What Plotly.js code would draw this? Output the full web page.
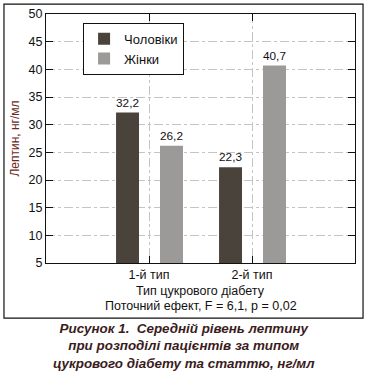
<!DOCTYPE html>
<html>
<head>
<meta charset="utf-8">
<script src="https://cdn.plot.ly/plotly-3.0.1.min.js"></script>
<style>html,body{margin:0;padding:0;background:#fff;}#chart{width:367px;height:375px;}</style>
</head>
<body>
<div id="chart"></div>
<script>
const categories = ["1-й тип", "2-й тип"];
const seriesNames = ["Чоловіки", "Жінки"];
const menValues = [32.2, 22.3];
const womenValues = [26.2, 40.7];
const yTicks = [5, 10, 15, 20, 25, 30, 35, 40, 45, 50];

const font = "Liberation Sans, Arial, sans-serif";

const traces = [
  {type: "bar", name: seriesNames[0], x: categories, y: menValues, width: 0.223, offset: -0.32,
   marker: {color: "#4a433b"}, texttemplate: "%{y:.1f}", textposition: "outside",
   textfont: {size: 12.5, color: "#111", family: font}, cliponaxis: false},
  {type: "bar", name: seriesNames[1], x: categories, y: womenValues, width: 0.223, offset: 0.107,
   marker: {color: "#9b9a98"}, texttemplate: "%{y:.1f}", textposition: "outside",
   textfont: {size: 12.5, color: "#111", family: font}, cliponaxis: false}
];

const layout = {
  width: 367, height: 375,
  margin: {l: 46, r: 12, t: 14, b: 112, pad: 0},
  paper_bgcolor: "#fff", plot_bgcolor: "#fff",
  separators: ", ",
  font: {family: font, size: 12.5, color: "#111"},
  barmode: "overlay",
  showlegend: true,
  legend: {x: 0.12, y: 0.965, xanchor: "left", yanchor: "top",
    bordercolor: "#111", borderwidth: 1, bgcolor: "#fff",
    font: {size: 13, family: font, color: "#111"}, tracegroupgap: 0, itemwidth: 30},
  xaxis: {type: "category", range: [-1, 2], showline: true, linecolor: "#111", linewidth: 1,
    mirror: "ticks", ticks: "inside", ticklen: 7, tickcolor: "#111",
    showgrid: true, gridcolor: "#c4c4c4", griddash: "dashdot", gridwidth: 1,
    tickfont: {size: 12.5, family: font, color: "#111"}, fixedrange: true},
  yaxis: {range: [5, 50], tickvals: yTicks, showline: true, linecolor: "#111", linewidth: 1,
    mirror: "ticks", ticks: "inside", ticklen: 7, tickcolor: "#111",
    showgrid: true, gridcolor: "#c4c4c4", griddash: "dashdot", gridwidth: 1, zeroline: false,
    tickfont: {size: 12.5, family: font, color: "#111"},
    title: {text: "Лептин, нг/мл", font: {size: 12, family: font, color: "#6a2a22"}, standoff: 6}},
  shapes: [
    {type: "rect", xref: "paper", yref: "paper", x0: -0.136, x1: 1.026, y0: -0.221, y1: 1.040,
     line: {color: "#111", width: 1.2}, fillcolor: "rgba(0,0,0,0)", layer: "below"}
  ],
  annotations: [
    {xref: "paper", yref: "paper", x: 0.5, y: -0.113, xanchor: "center", yanchor: "middle",
     text: "Тип цукрового діабету", showarrow: false, font: {size: 12.5, family: font, color: "#111"}},
    {xref: "paper", yref: "paper", x: 0.5, y: -0.173, xanchor: "center", yanchor: "middle",
     text: "Поточний ефект, F = 6,1, p = 0,02", showarrow: false, font: {size: 12.5, family: font, color: "#111"}},
    {xref: "paper", yref: "paper", x: 0.445, y: -0.335, xanchor: "center", yanchor: "middle",
     text: "<b><i>Рисунок 1.  Середній рівень лептину<br>при розподілі пацієнтів за типом<br>цукрового діабету та статтю, нг/мл</i></b>",
     showarrow: false, align: "center", font: {size: 13.4, family: font, color: "#3a1c1c"}}
  ]
};

Plotly.newPlot("chart", traces, layout, {staticPlot: true, displayModeBar: false});
</script>
</body>
</html>
